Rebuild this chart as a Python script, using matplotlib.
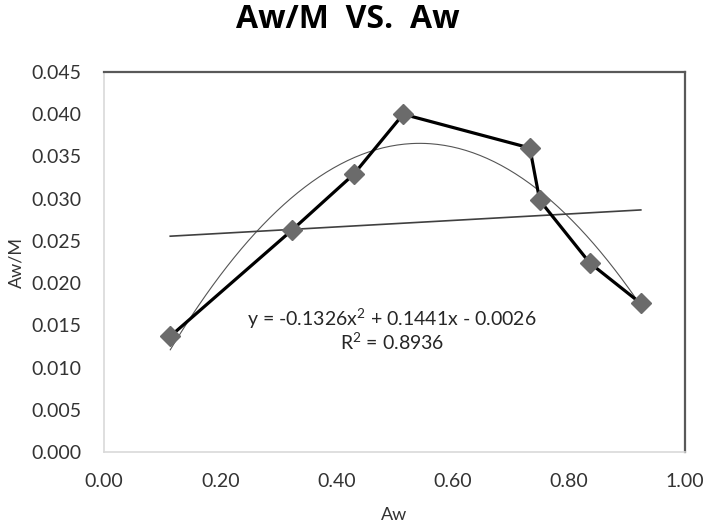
import numpy as np
import matplotlib
matplotlib.use("Agg")
import matplotlib.pyplot as plt
from matplotlib.ticker import FormatStrFormatter

# Data
aw = [0.114, 0.324, 0.430, 0.515, 0.733, 0.750, 0.836, 0.924]
aw_m = [0.0137, 0.0263, 0.0329, 0.0400, 0.0360, 0.0298, 0.0224, 0.0176]
poly_coef = [-0.1326, 0.1441, -0.0026]
r2_text = "0.8936"
x_ticks = [0.0, 0.2, 0.4, 0.6, 0.8, 1.0]
y_ticks = [0.000, 0.005, 0.010, 0.015, 0.020, 0.025, 0.030, 0.035, 0.040, 0.045]

plt.rcParams['font.family'] = ['Lato', 'DejaVu Sans']
plt.rcParams['mathtext.fontset'] = 'custom'
plt.rcParams['mathtext.rm'] = 'Lato'
plt.rcParams['mathtext.it'] = 'Lato'

fig = plt.figure(figsize=(7.09, 5.25), dpi=100)
ax = fig.add_axes([0.1467, 0.139, 0.8194, 0.7239])

# polynomial trendline
xs = np.linspace(min(aw), max(aw), 200)
ax.plot(xs, np.polyval(poly_coef, xs), color='#555555', lw=0.8, zorder=2)

# linear trendline
lin = np.polyfit(aw, aw_m, 1)
xl = np.array([min(aw), max(aw)])
ax.plot(xl, np.polyval(lin, xl), color='#404040', lw=1.2, zorder=2)

# data series
ax.plot(aw, aw_m, color='black', lw=2.3, marker='D', markersize=10,
        markerfacecolor='#6b6b6b', markeredgecolor='#6b6b6b', zorder=3)

ax.set_xlim(0, 1.0)
ax.set_ylim(0, 0.045)
ax.set_xticks(x_ticks)
ax.set_yticks(y_ticks)
ax.xaxis.set_major_formatter(FormatStrFormatter('%.2f'))
ax.yaxis.set_major_formatter(FormatStrFormatter('%.3f'))
ax.tick_params(length=0, labelsize=14, labelcolor='#333333')
ax.tick_params(axis='y', pad=16)
ax.tick_params(axis='x', pad=15)

for side in ['left', 'bottom']:
    ax.spines[side].set_color('#d9d9d9')
    ax.spines[side].set_linewidth(1.2)
for side in ['top', 'right']:
    ax.spines[side].set_color('#595959')
    ax.spines[side].set_linewidth(1.6)

ax.set_xlabel('Aw', fontsize=13, color='#333333', labelpad=12)
ax.set_ylabel('Aw/M', fontsize=13, color='#333333', labelpad=5)

ax.text(0.496, 0.0145, 'y = -0.1326x$^{2}$ + 0.1441x - 0.0026\nR$^{2}$ = ' + r2_text,
        ha='center', va='center', fontsize=14, color='#262626', linespacing=1.05,
        transform=ax.transData)

fig.text(0.491, 0.962, 'Aw/M  VS.  Aw', ha='center', va='center', fontsize=23,
         fontweight='bold', color='black', family=['Open Sans', 'DejaVu Sans'])

fig.savefig('out.png', dpi=100)
